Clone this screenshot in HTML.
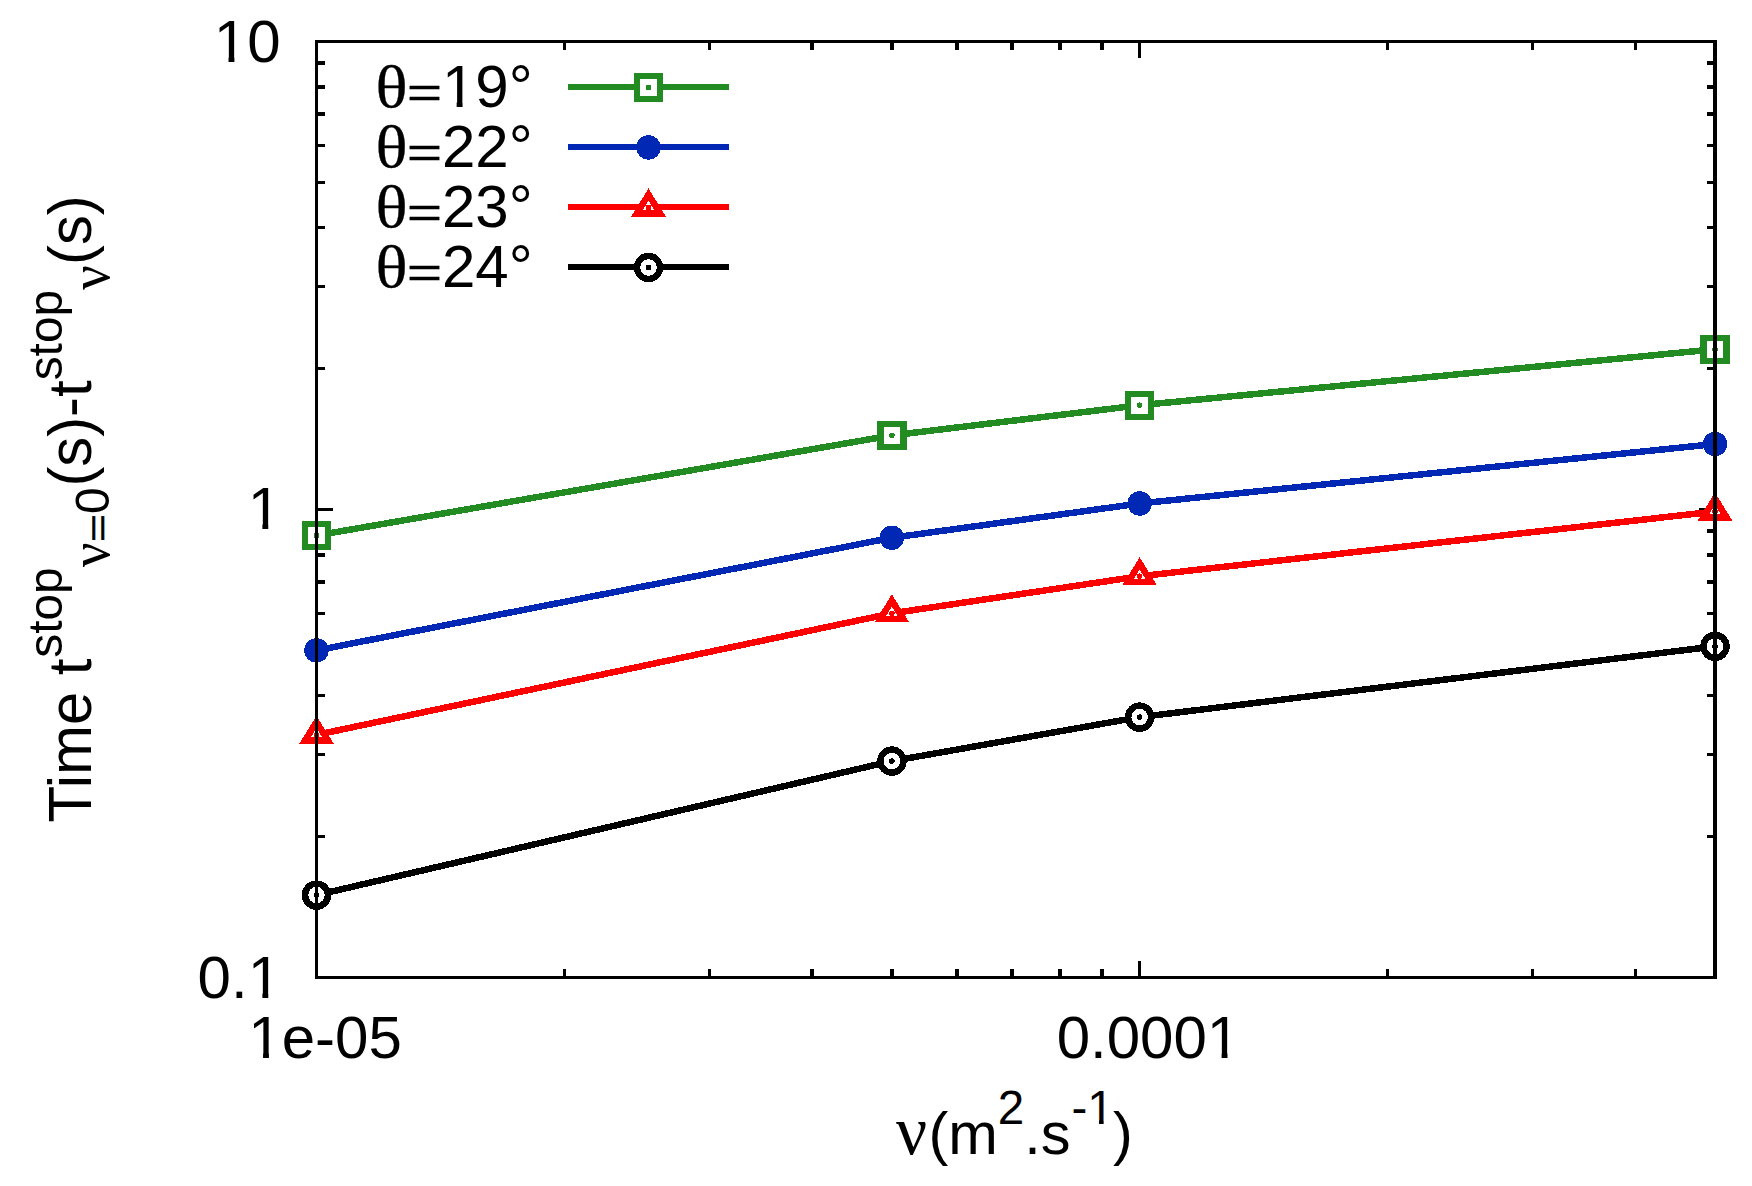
<!DOCTYPE html>
<html lang="en"><head><meta charset="utf-8"><title>Stop time vs viscosity</title>
<style>html,body{margin:0;padding:0;background:#fff}body{width:1752px;height:1186px;overflow:hidden}svg{display:block}text{font-family:"Liberation Sans",sans-serif;fill:#000}.sym{font-family:"Liberation Serif",serif}</style></head><body>
<svg width="1752" height="1186" viewBox="0 0 1752 1186">
<rect width="1752" height="1186" fill="#fff"/>
<g fill="#000" shape-rendering="crispEdges">
<rect x="315" y="835" width="10" height="3"/>
<rect x="1707" y="835" width="10" height="3"/>
<rect x="315" y="753" width="10" height="3"/>
<rect x="1707" y="753" width="10" height="3"/>
<rect x="315" y="694" width="10" height="3"/>
<rect x="1707" y="694" width="10" height="3"/>
<rect x="315" y="649" width="10" height="3"/>
<rect x="1707" y="649" width="10" height="3"/>
<rect x="315" y="612" width="10" height="3"/>
<rect x="1707" y="612" width="10" height="3"/>
<rect x="315" y="580" width="10" height="4"/>
<rect x="1707" y="580" width="10" height="4"/>
<rect x="315" y="553" width="10" height="4"/>
<rect x="1707" y="553" width="10" height="4"/>
<rect x="315" y="529" width="10" height="4"/>
<rect x="1707" y="529" width="10" height="4"/>
<rect x="315" y="367" width="10" height="3"/>
<rect x="1707" y="367" width="10" height="3"/>
<rect x="315" y="285" width="10" height="3"/>
<rect x="1707" y="285" width="10" height="3"/>
<rect x="315" y="226" width="10" height="3"/>
<rect x="1707" y="226" width="10" height="3"/>
<rect x="315" y="181" width="10" height="3"/>
<rect x="1707" y="181" width="10" height="3"/>
<rect x="315" y="144" width="10" height="3"/>
<rect x="1707" y="144" width="10" height="3"/>
<rect x="315" y="112" width="10" height="4"/>
<rect x="1707" y="112" width="10" height="4"/>
<rect x="315" y="85" width="10" height="4"/>
<rect x="1707" y="85" width="10" height="4"/>
<rect x="315" y="61" width="10" height="4"/>
<rect x="1707" y="61" width="10" height="4"/>
<rect x="315" y="508" width="18" height="3"/>
<rect x="1699" y="508" width="18" height="3"/>
<rect x="563" y="40" width="3" height="10"/>
<rect x="563" y="969" width="3" height="10"/>
<rect x="708" y="40" width="3" height="10"/>
<rect x="708" y="969" width="3" height="10"/>
<rect x="810" y="40" width="4" height="10"/>
<rect x="810" y="969" width="4" height="10"/>
<rect x="890" y="40" width="4" height="10"/>
<rect x="890" y="969" width="4" height="10"/>
<rect x="955" y="40" width="4" height="10"/>
<rect x="955" y="969" width="4" height="10"/>
<rect x="1010" y="40" width="4" height="10"/>
<rect x="1010" y="969" width="4" height="10"/>
<rect x="1058" y="40" width="4" height="10"/>
<rect x="1058" y="969" width="4" height="10"/>
<rect x="1100" y="40" width="4" height="10"/>
<rect x="1100" y="969" width="4" height="10"/>
<rect x="1138" y="40" width="3" height="18"/>
<rect x="1138" y="961" width="3" height="18"/>
<rect x="1386" y="40" width="3" height="10"/>
<rect x="1386" y="969" width="3" height="10"/>
<rect x="1531" y="40" width="3" height="10"/>
<rect x="1531" y="969" width="3" height="10"/>
<rect x="1634" y="40" width="3" height="10"/>
<rect x="1634" y="969" width="3" height="10"/>
</g>
<g shape-rendering="crispEdges">
<polyline points="316.50,535.48 891.85,435.39 1139.65,405.27 1715.00,349.25" fill="none" stroke="#228B22" stroke-width="6.5" stroke-linejoin="round"/>
<rect x="568" y="84" width="161" height="6" fill="#228B22" shape-rendering="crispEdges"/>
<rect x="305.00" y="523.98" width="23.0" height="23.0" fill="#fff" stroke="#228B22" stroke-width="6.5"/>
<circle cx="316.50" cy="535.48" r="2.8" fill="#228B22"/>
<rect x="880.35" y="423.89" width="23.0" height="23.0" fill="#fff" stroke="#228B22" stroke-width="6.5"/>
<circle cx="891.85" cy="435.39" r="2.8" fill="#228B22"/>
<rect x="1128.15" y="393.77" width="23.0" height="23.0" fill="#fff" stroke="#228B22" stroke-width="6.5"/>
<circle cx="1139.65" cy="405.27" r="2.8" fill="#228B22"/>
<rect x="1703.50" y="337.75" width="23.0" height="23.0" fill="#fff" stroke="#228B22" stroke-width="6.5"/>
<circle cx="1715.00" cy="349.25" r="2.8" fill="#228B22"/>
<rect x="637.00" y="76.00" width="23.0" height="23.0" fill="#fff" stroke="#228B22" stroke-width="6.5"/>
<circle cx="648.50" cy="87.50" r="2.8" fill="#228B22"/>
<polyline points="316.50,650.38 891.85,537.80 1139.65,503.49 1715.00,444.04" fill="none" stroke="#0028B4" stroke-width="6.5" stroke-linejoin="round"/>
<rect x="568" y="144" width="161" height="6" fill="#0028B4" shape-rendering="crispEdges"/>
<circle cx="316.50" cy="650.38" r="12.2" fill="#0028B4"/>
<circle cx="891.85" cy="537.80" r="12.2" fill="#0028B4"/>
<circle cx="1139.65" cy="503.49" r="12.2" fill="#0028B4"/>
<circle cx="1715.00" cy="444.04" r="12.2" fill="#0028B4"/>
<circle cx="648.50" cy="147.50" r="12.2" fill="#0028B4"/>
<polyline points="316.50,734.84 891.85,613.33 1139.65,576.27 1715.00,511.54" fill="none" stroke="#FF0000" stroke-width="6.5" stroke-linejoin="round"/>
<rect x="568" y="204" width="161" height="6" fill="#FF0000" shape-rendering="crispEdges"/>
<path d="M316.50 721.96L305.00 740.59L328.00 740.59Z" fill="#fff" stroke="#FF0000" stroke-width="6.5" stroke-linejoin="miter" stroke-miterlimit="10"/>
<circle cx="316.50" cy="734.84" r="2.8" fill="#FF0000"/>
<path d="M891.85 600.45L880.35 619.08L903.35 619.08Z" fill="#fff" stroke="#FF0000" stroke-width="6.5" stroke-linejoin="miter" stroke-miterlimit="10"/>
<circle cx="891.85" cy="613.33" r="2.8" fill="#FF0000"/>
<path d="M1139.65 563.39L1128.15 582.02L1151.15 582.02Z" fill="#fff" stroke="#FF0000" stroke-width="6.5" stroke-linejoin="miter" stroke-miterlimit="10"/>
<circle cx="1139.65" cy="576.27" r="2.8" fill="#FF0000"/>
<path d="M1715.00 498.66L1703.50 517.29L1726.50 517.29Z" fill="#fff" stroke="#FF0000" stroke-width="6.5" stroke-linejoin="miter" stroke-miterlimit="10"/>
<circle cx="1715.00" cy="511.54" r="2.8" fill="#FF0000"/>
<path d="M648.50 194.62L637.00 213.25L660.00 213.25Z" fill="#fff" stroke="#FF0000" stroke-width="6.5" stroke-linejoin="miter" stroke-miterlimit="10"/>
<circle cx="648.50" cy="207.50" r="2.8" fill="#FF0000"/>
<polyline points="316.50,895.09 891.85,761.10 1139.65,717.15 1715.00,646.36" fill="none" stroke="#000000" stroke-width="6.5" stroke-linejoin="round"/>
<rect x="568" y="264" width="161" height="6" fill="#000000" shape-rendering="crispEdges"/>
<circle cx="316.50" cy="895.09" r="11.5" fill="#fff" stroke="#000000" stroke-width="6.5"/>
<circle cx="316.50" cy="895.09" r="2.8" fill="#000000"/>
<circle cx="891.85" cy="761.10" r="11.5" fill="#fff" stroke="#000000" stroke-width="6.5"/>
<circle cx="891.85" cy="761.10" r="2.8" fill="#000000"/>
<circle cx="1139.65" cy="717.15" r="11.5" fill="#fff" stroke="#000000" stroke-width="6.5"/>
<circle cx="1139.65" cy="717.15" r="2.8" fill="#000000"/>
<circle cx="1715.00" cy="646.36" r="11.5" fill="#fff" stroke="#000000" stroke-width="6.5"/>
<circle cx="1715.00" cy="646.36" r="2.8" fill="#000000"/>
<circle cx="648.50" cy="267.50" r="11.5" fill="#fff" stroke="#000000" stroke-width="6.5"/>
<circle cx="648.50" cy="267.50" r="2.8" fill="#000000"/>
</g>
<g fill="#000" shape-rendering="crispEdges">
<rect x="315" y="40" width="1402" height="3"/>
<rect x="315" y="976" width="1402" height="3"/>
<rect x="315" y="40" width="3" height="939"/>
<rect x="1713" y="40" width="4" height="939"/>
</g>
<defs><clipPath id="k19" clipPathUnits="userSpaceOnUse"><path clip-rule="evenodd" d="M-400 -400H900V400H-400ZM70.00 -5.16H81.16V1.20H70.00ZM87.04 -5.16H98.20V1.20H87.04Z"/></clipPath><clipPath id="k10" clipPathUnits="userSpaceOnUse"><path clip-rule="evenodd" d="M-400 -400H900V400H-400ZM3.60 -5.16H14.76V1.20H3.60ZM20.64 -5.16H31.80V1.20H20.64Z"/></clipPath><clipPath id="k1" clipPathUnits="userSpaceOnUse"><path clip-rule="evenodd" d="M-400 -400H900V400H-400ZM3.60 -5.16H14.76V1.20H3.60ZM20.64 -5.16H31.80V1.20H20.64Z"/></clipPath><clipPath id="k01" clipPathUnits="userSpaceOnUse"><path clip-rule="evenodd" d="M-400 -400H900V400H-400ZM53.64 -5.16H64.80V1.20H53.64ZM70.68 -5.16H81.84V1.20H70.68Z"/></clipPath><clipPath id="k1e" clipPathUnits="userSpaceOnUse"><path clip-rule="evenodd" d="M-400 -400H900V400H-400ZM3.60 -5.16H14.76V1.20H3.60ZM20.64 -5.16H31.80V1.20H20.64Z"/></clipPath><clipPath id="k0001" clipPathUnits="userSpaceOnUse"><path clip-rule="evenodd" d="M-400 -400H900V400H-400ZM153.75 -5.16H164.91V1.20H153.75ZM170.79 -5.16H181.95V1.20H170.79Z"/></clipPath><clipPath id="kx" clipPathUnits="userSpaceOnUse"><path clip-rule="evenodd" d="M-400 -400H900V400H-400ZM194.21 -34.09H203.06V-29.05H194.21ZM207.73 -34.09H216.58V-29.05H207.73Z"/></clipPath></defs>
<g font-size="60">
<text transform="translate(375.5,106.7)" clip-path="url(#k19)"><tspan class="sym" x="0.0" y="0.0" font-size="59.2" textLength="32.04" lengthAdjust="spacingAndGlyphs" stroke="#000" stroke-width="0.3">θ</tspan><tspan x="31.4" y="0.7" font-size="43.2" textLength="35.04" lengthAdjust="spacingAndGlyphs" stroke="#000" stroke-width="0.5">=</tspan><tspan x="66.4" y="0.0" font-size="60.00">19°</tspan></text>
<text transform="translate(375.5,166.7)"><tspan class="sym" x="0.0" y="0.0" font-size="59.2" textLength="32.04" lengthAdjust="spacingAndGlyphs" stroke="#000" stroke-width="0.3">θ</tspan><tspan x="31.4" y="0.7" font-size="43.2" textLength="35.04" lengthAdjust="spacingAndGlyphs" stroke="#000" stroke-width="0.5">=</tspan><tspan x="66.4" y="0.0" font-size="60.00">22°</tspan></text>
<text transform="translate(375.5,226.7)"><tspan class="sym" x="0.0" y="0.0" font-size="59.2" textLength="32.04" lengthAdjust="spacingAndGlyphs" stroke="#000" stroke-width="0.3">θ</tspan><tspan x="31.4" y="0.7" font-size="43.2" textLength="35.04" lengthAdjust="spacingAndGlyphs" stroke="#000" stroke-width="0.5">=</tspan><tspan x="66.4" y="0.0" font-size="60.00">23°</tspan></text>
<text transform="translate(375.5,286.7)"><tspan class="sym" x="0.0" y="0.0" font-size="59.2" textLength="32.04" lengthAdjust="spacingAndGlyphs" stroke="#000" stroke-width="0.3">θ</tspan><tspan x="31.4" y="0.7" font-size="43.2" textLength="35.04" lengthAdjust="spacingAndGlyphs" stroke="#000" stroke-width="0.5">=</tspan><tspan x="66.4" y="0.0" font-size="60.00">24°</tspan></text>
<text transform="translate(213.76,62.0)" clip-path="url(#k10)">10</text>
<text transform="translate(247.63,529.0)" clip-path="url(#k1)">1</text>
<text transform="translate(197.59,998.0)" clip-path="url(#k01)">0.1</text>
<text transform="translate(248.30,1058.0)" clip-path="url(#k1e)">1e-05</text>
<text transform="translate(1056.70,1058.0)" clip-path="url(#k0001)">0.0001</text>
<text transform="translate(895.9,1154)" clip-path="url(#kx)"><tspan class="sym" x="0.0" y="0.0" font-size="69.0" textLength="31.19" lengthAdjust="spacingAndGlyphs" stroke="#000" stroke-width="0.0">ν</tspan><tspan x="32.5" y="0.0" font-size="59.50">(m</tspan><tspan x="101.9" y="-30.0" font-size="47.60">2</tspan><tspan x="128.4" y="0.0" font-size="59.50">.s</tspan><tspan x="175.5" y="-30.0" font-size="47.60">-1</tspan><tspan x="217.0" y="0.0" font-size="59.50">)</tspan></text>
<text transform="translate(91.4,822.5) rotate(-90) scale(1,1.02)"><tspan x="0.0" y="0.0" font-size="59.80">Time t</tspan><tspan x="164.8" y="-29.3" font-size="47.84">stop</tspan><tspan class="sym" x="255.2" y="17.6" font-size="55.0" textLength="24.86" lengthAdjust="spacingAndGlyphs" stroke="#000" stroke-width="0.0">ν</tspan><tspan x="280.6" y="18.1" font-size="34.4" textLength="27.94" lengthAdjust="spacingAndGlyphs" stroke="#000" stroke-width="0.5">=</tspan><tspan x="308.4" y="17.6" font-size="47.84">0</tspan><tspan x="335.9" y="0.0" font-size="59.80">(s)-t</tspan><tspan x="442.2" y="-29.3" font-size="47.84">stop</tspan><tspan class="sym" x="532.6" y="17.6" font-size="55.0" textLength="24.86" lengthAdjust="spacingAndGlyphs" stroke="#000" stroke-width="0.0">ν</tspan><tspan x="557.5" y="0.0" font-size="59.80">(s)</tspan></text>
</g>
</svg></body></html>
